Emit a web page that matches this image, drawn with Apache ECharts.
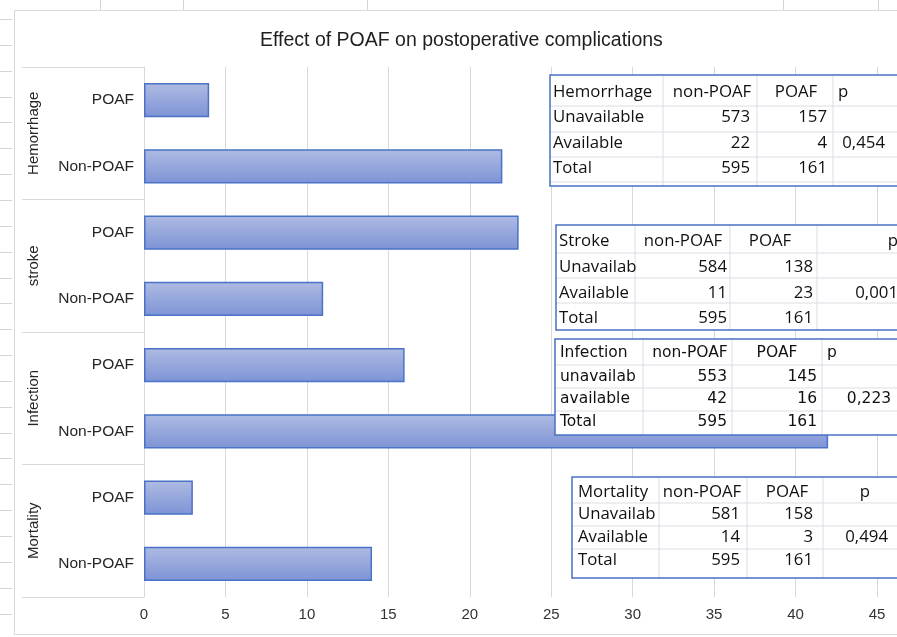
<!DOCTYPE html>
<html>
<head>
<meta charset="utf-8">
<script src="https://cdn.jsdelivr.net/npm/echarts@6/dist/echarts.min.js"></script>
<style>
  html, body { margin: 0; padding: 0; background: #ffffff; }
  #chart { width: 897px; height: 637px; }
</style>
</head>
<body>
<div id="chart"></div>
<script>
// Complication groups and study arms (top to bottom)
const complications = ['Hemorrhage', 'stroke', 'Infection', 'Mortality'];
const arms = ['POAF', 'Non-POAF'];

// 2x2 counts per complication
const tableTitles = ['Hemorrhage', 'Stroke', 'Infection', 'Mortality'];
const rowNames = [
  ['Unavailable', 'Available', 'Total'],
  ['Unavailab', 'Available', 'Total'],
  ['unavailab', 'available', 'Total'],
  ['Unavailab', 'Available', 'Total']
];
const unavailableNonPOAF = [573, 584, 553, 581];
const unavailablePOAF = [157, 138, 145, 158];
const availableNonPOAF = [22, 11, 42, 14];
const availablePOAF = [4, 23, 16, 3];
const totalNonPOAF = [595, 595, 595, 595];
const totalPOAF = [161, 161, 161, 161];
const pValues = ['0,454', '0,001', '0,223', '0,494'];

// Value axis
const xMin = 0;
const xMax = 45;
const xStep = 5;

// Bars: one per complication/arm, length = "Available" count
const barCategories = [];
const barValues = [];
complications.forEach((c, i) => {
  barCategories.push(arms[0]);
  barValues.push(availablePOAF[i]);
  barCategories.push(arms[1]);
  barValues.push(availableNonPOAF[i]);
});

// Placement of the inset count tables
const tableLayouts = [
  { box: [550, 75, 910, 186], cols: [663, 757, 833], rows: [106, 132, 157, 182], textY: [92, 117, 143, 168],
    font: 'Open Sans', size: 16.8,
    head: [[553, 'left'], [712, 'center'], [796, 'center'], [838, 'left']],
    body: [[553, 'left'], [750, 'right'], [827, 'right'], [885, 'right']] },
  { box: [556, 225, 910, 330], cols: [635, 730, 817], rows: [253, 278, 303], textY: [241, 267, 293, 318],
    font: 'Open Sans', size: 16.8,
    head: [[559, 'left'], [683, 'center'], [770, 'center'], [898, 'right']],
    body: [[559, 'left'], [727, 'right'], [813, 'right'], [898, 'right']] },
  { box: [555, 339, 910, 435], cols: [643, 732, 822], rows: [365, 388, 411], textY: [353, 377, 399, 422],
    font: 'DejaVu Sans', size: 15.5,
    head: [[560, 'left'], [690, 'center'], [777, 'center'], [827, 'left']],
    body: [[560, 'left'], [727, 'right'], [817, 'right'], [869, 'center']] },
  { box: [572, 477, 910, 578], cols: [659, 747, 823], rows: [503, 526, 549], textY: [492, 514, 537, 560],
    font: 'Open Sans', size: 16.8,
    head: [[578, 'left'], [702, 'center'], [787, 'center'], [865, 'center']],
    body: [[578, 'left'], [740, 'right'], [813, 'right'], [888, 'right']] }
];

function tableGraphics() {
  const out = [];
  tableLayouts.forEach((L, i) => {
    const [x0, y0, x1, y1] = L.box;
    out.push({ type: 'rect', z: 100, shape: { x: x0, y: y0, width: x1 - x0, height: y1 - y0 },
      style: { fill: '#ffffff', stroke: 'none' } });
    L.cols.forEach(cx => out.push({ type: 'line', z: 101, shape: { x1: cx, y1: y0, x2: cx, y2: y1 },
      style: { stroke: '#d9dde3', lineWidth: 1 } }));
    L.rows.forEach(ry => out.push({ type: 'line', z: 101, shape: { x1: x0, y1: ry, x2: x1, y2: ry },
      style: { stroke: '#d9dde3', lineWidth: 1 } }));
    out.push({ type: 'rect', z: 102, shape: { x: x0, y: y0, width: x1 - x0, height: y1 - y0 },
      style: { fill: 'none', stroke: '#4a72c4', lineWidth: 1.5 } });
    const rows = [
      [tableTitles[i], 'non-POAF', 'POAF', 'p'],
      [rowNames[i][0], String(unavailableNonPOAF[i]), String(unavailablePOAF[i]), ''],
      [rowNames[i][1], String(availableNonPOAF[i]), String(availablePOAF[i]), pValues[i]],
      [rowNames[i][2], String(totalNonPOAF[i]), String(totalPOAF[i]), '']
    ];
    rows.forEach((cells, r) => {
      const anchors = r === 0 ? L.head : L.body;
      cells.forEach((t, c) => {
        if (!t) return;
        out.push({ type: 'text', z: 103, x: anchors[c][0], y: L.textY[r],
          style: { text: t, fontFamily: L.font, fontSize: L.size, fill: '#111111',
            align: anchors[c][1], verticalAlign: 'middle' } });
      });
    });
  });
  return out;
}

// Faint sheet cell lines around the chart frame
function sheetGraphics() {
  const out = [];
  for (let y = 19; y < 637; y += 25.85) {
    out.push({ type: 'line', z: 1, shape: { x1: 0, y1: Math.round(y) + 0.5, x2: 12, y2: Math.round(y) + 0.5 },
      style: { stroke: '#d4d4d4', lineWidth: 1 } });
  }
  [100, 183, 367, 783, 878].forEach(x => out.push({ type: 'line', z: 1,
    shape: { x1: x + 0.5, y1: 0, x2: x + 0.5, y2: 10 }, style: { stroke: '#d4d4d4', lineWidth: 1 } }));
  out.push({ type: 'rect', z: 1, shape: { x: 14.5, y: 10.5, width: 900, height: 624 },
    style: { fill: 'none', stroke: '#d9d9d9', lineWidth: 1 } });
  return out;
}

const chart = echarts.init(document.getElementById('chart'), null, { renderer: 'canvas' });

chart.setOption({
  animation: false,
  backgroundColor: '#ffffff',
  title: {
    text: 'Effect of POAF on postoperative complications',
    left: 255,
    top: 26,
    textStyle: { fontFamily: 'Liberation Sans', fontSize: 19.5, fontWeight: 'normal', color: '#1f1f1f' }
  },
  grid: { left: 144, right: 20, top: 67, bottom: 40, containLabel: false },
  xAxis: {
    type: 'value',
    min: xMin,
    max: xMax,
    interval: xStep,
    axisLine: { show: false },
    axisTick: { show: false },
    splitLine: { show: true, lineStyle: { color: '#d9d9d9', width: 1 } },
    axisLabel: { color: '#333333', fontFamily: 'Liberation Sans', fontSize: 15, margin: 10 }
  },
  yAxis: [
    {
      type: 'category',
      data: barCategories,
      inverse: true,
      position: 'left',
      axisLine: { show: true, lineStyle: { color: '#d9d9d9', width: 1 } },
      axisTick: { show: false },
      splitLine: { show: false },
      axisLabel: { color: '#262626', fontFamily: 'Liberation Sans', fontSize: 15.5, margin: 10 }
    },
    {
      type: 'category',
      data: complications,
      inverse: true,
      position: 'left',
      offset: 0,
      axisLine: { show: false },
      axisTick: { show: true, length: 122, lineStyle: { color: '#d9d9d9', width: 1 } },
      splitLine: { show: false },
      axisLabel: { rotate: 90, margin: 103, color: '#262626', fontFamily: 'Liberation Sans', fontSize: 15 }
    }
  ],
  series: [
    {
      type: 'bar',
      yAxisIndex: 0,
      data: barValues,
      barWidth: '52%',
      itemStyle: {
        color: new echarts.graphic.LinearGradient(0, 0, 0, 1, [
          { offset: 0, color: '#afbbe3' },
          { offset: 1, color: '#7d93d5' }
        ]),
        borderColor: '#4a72c8',
        borderWidth: 1.5
      }
    }
  ],
  graphic: sheetGraphics().concat(tableGraphics())
});
</script>
</body>
</html>
